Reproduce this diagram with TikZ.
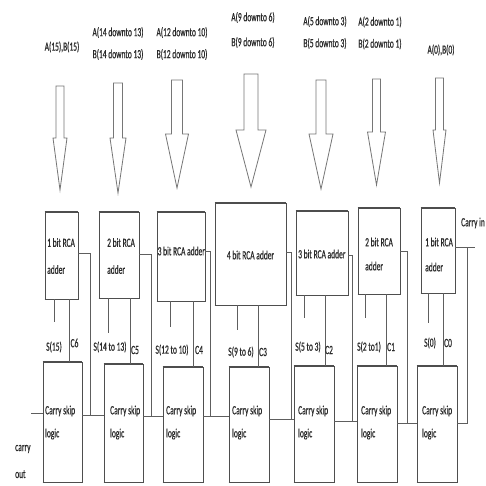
\documentclass[tikz,border=0pt]{standalone}
\usepackage{fontspec}
\setmainfont{Carlito}[FakeStretch=0.6, FakeBold=0.5]
\definecolor{ln}{HTML}{5E5E5E}
\definecolor{bx}{HTML}{4E4E4E}
\definecolor{ar}{HTML}{767676}
\definecolor{tx}{HTML}{2A2A2A}
\begin{document}
\begin{tikzpicture}[x=1pt,y=-1pt,
  wire/.style={draw=ln, line width=0.85pt},
  arr/.style={draw=ar, line width=0.8pt, line join=miter},
  box/.style={draw=bx, line width=0.9pt, inner sep=0pt, fill=white},
  txt/.style={text=tx, inner sep=0pt, font=\fontsize{12.5}{12}\selectfont},
  toplbl/.style={txt, align=center, font=\fontsize{12.5}{22}\selectfont},
  rcatxt/.style={txt, align=left, font=\fontsize{12.5}{27}\selectfont},
  cstxt/.style={txt, align=left, font=\fontsize{12.5}{23}\selectfont}]
\useasboundingbox[fill=white] (0,0) rectangle (486,485);

% input labels
\node[toplbl] (l1) at (62,47) {A(15),B(15)};
\node[toplbl] (l2) at (118,43.5) {A(14 downto 13)\\B(14 downto 13)};
\node[toplbl] (l3) at (182,43.5) {A(12 downto 10)\\B(12 downto 10)};
\node[toplbl, font=\fontsize{12.5}{25}\selectfont] (l4) at (253,30) {A(9 downto 6)\\B(9 downto 6)};
\node[toplbl] (l5) at (325,32.5) {A(5 downto 3)\\B(5 downto 3)};
\node[toplbl] (l6) at (380,33) {A(2 downto 1)\\B(2 downto 1)};
\node[toplbl] (l7) at (441,50) {A(0),B(0)};

% block arrows: x / top / head start / tip / shaft half / head half
\foreach \x/\t/\h/\p/\s/\w in {60/86/138/190/4/7, 118/83/138/193/4.5/8,
    177/80/134/188/5.5/11.5, 251/74/130/187/7/15, 321/80/134/189/5/12,
    376.5/79/132/185/4/9, 439.5/78/130/183/4/6.5}
  \draw[arr] (\x-\s,\t) -- (\x+\s,\t) -- (\x+\s,\h) -- (\x+\w,\h) -- (\x,\p)
    -- (\x-\w,\h) -- (\x-\s,\h) -- cycle;

% RCA adders
\node[box, minimum width=33, minimum height=87] (r1) at (61.5,255.5) {};
\node[box, minimum width=40, minimum height=86] (r2) at (119,255) {};
\node[box, minimum width=48, minimum height=89] (r3) at (181,256.5) {};
\node[box, minimum width=71, minimum height=102] (r4) at (250.5,254) {};
\node[box, minimum width=52, minimum height=84] (r5) at (322,253) {};
\node[box, minimum width=42, minimum height=86] (r6) at (379,251) {};
\node[box, minimum width=34, minimum height=85] (r7) at (438,250.5) {};

\node[rcatxt, anchor=west] (t1) at (47,256) {1 bit RCA\\adder};
\node[rcatxt, anchor=west] (t2) at (107,256) {2 bit RCA\\adder};
\node[rcatxt, anchor=west] (t3) at (157.5,251) {3 bit RCA adder};
\node[rcatxt] (t4) at (250.5,255) {4 bit RCA adder};
\node[rcatxt, anchor=west] (t5) at (298,254) {3 bit RCA adder};
\node[rcatxt, anchor=west, font=\fontsize{12.5}{24}\selectfont] (t6) at (365,254) {2 bit RCA\\adder};
\node[rcatxt, anchor=west, font=\fontsize{12.5}{25}\selectfont] (t7) at (425,254.5) {1 bit RCA\\adder};
\node[txt, anchor=west] (cin) at (461,223) {Carry in};

% carry skip logic blocks
\node[box, minimum width=39, minimum height=120] (c1) at (62.5,422) {};
\node[box, minimum width=39, minimum height=118] (c2) at (123.5,423) {};
\node[box, minimum width=40, minimum height=115] (c3) at (183,424.5) {};
\node[box, minimum width=40, minimum height=115] (c4) at (249,424.5) {};
\node[box, minimum width=40, minimum height=116] (c5) at (314,424) {};
\node[box, minimum width=40, minimum height=116] (c6) at (377,424) {};
\node[box, minimum width=40, minimum height=116] (c7) at (437,424) {};

\foreach \n/\x in {c1/45, c2/110, c3/166, c4/232, c5/298, c6/361, c7/422}
  \node[cstxt, anchor=west] (\n t) at (\x,422.5) {Carry skip\\logic};

% thicker top and bottom edges of the blocks
\foreach \n in {r1,r2,r3,r4,r5,r6,r7,c1,c2,c3,c4,c5,c6,c7}{
  \draw[draw=bx, line width=1.6pt] (\n.north west) -- (\n.north east);
  \draw[draw=bx, line width=1.4pt] (\n.south west) -- (\n.south east);
}

% sum outputs
\foreach \r/\x/\e/\y/\lx/\lab in {r1/54/322/347/54/S(15), r2/108/333/347/110/S(14 to 13),
    r3/170/327/350/172/S(12 to 10), r4/237/330/352/241/S(9 to 6),
    r5/304/318/347/308/S(5 to 3), r6/365/318/347/369/S(2 to1), r7/428/323/343/430/S(0)}{
  \draw[wire] (\x,0 |- \r.south) -- (\x,\e);
  \node[txt] (s\r) at (\lx,\y) {\lab};
}

% carry outputs of the adders
\foreach \r/\c/\x/\lx/\y/\lab in {r1/c1/69/74.5/343/C6, r2/c2/130/135/350/C5,
    r3/c3/193/199/350/C4, r4/c4/258/263/352/C3, r5/c5/325/329/350/C2,
    r6/c6/386/391/347/C1, r7/c7/443/448/343/C0}{
  \draw[wire] (\x,0 |- \r.south) -- (\x,0 |- \c.north);
  \node[txt] (k\r) at (\lx,\y) {\lab};
}

% carry wires from the adders to the skip chain
\draw[wire] (r1.east |- 0,253) -- (90,253) -- (90,415);
\draw[wire] (r2.east |- 0,254) -- (151,254) -- (151,416);
\draw[wire] (r3.east |- 0,251) -- (210,251) -- (210,416);
\draw[wire] (r4.east |- 0,252) -- (291,252) -- (291,419);
\draw[wire] (r5.east |- 0,255) -- (352,255) -- (352,421);
\draw[wire] (r6.east |- 0,251) -- (407,251) -- (407,423);
\coordinate (cinend) at (475,247);
\draw[wire] (r7.east |- cinend) -- (cinend);
\draw[wire] (467,247) -- (467,423) -- (c7.east |- 0,423);

% skip chain
\draw[wire] (c1.east |- 0,415) -- (c2.west |- 0,415);
\draw[wire] (c2.east |- 0,416) -- (c3.west |- 0,416);
\draw[wire] (c3.east |- 0,416) -- (c4.west |- 0,416);
\draw[wire] (c4.east |- 0,419) -- (c5.west |- 0,419);
\draw[wire] (c5.east |- 0,421) -- (c6.west |- 0,421);
\draw[wire] (c6.east |- 0,423) -- (c7.west |- 0,423);
\coordinate (coutend) at (31,413);
\draw[wire] (coutend) -- (c1.west |- coutend);
\node[txt, align=left, anchor=west, font=\fontsize{12.5}{27}\selectfont] (cout) at (15,461.5) {carry\\out};
\end{tikzpicture}
\end{document}
